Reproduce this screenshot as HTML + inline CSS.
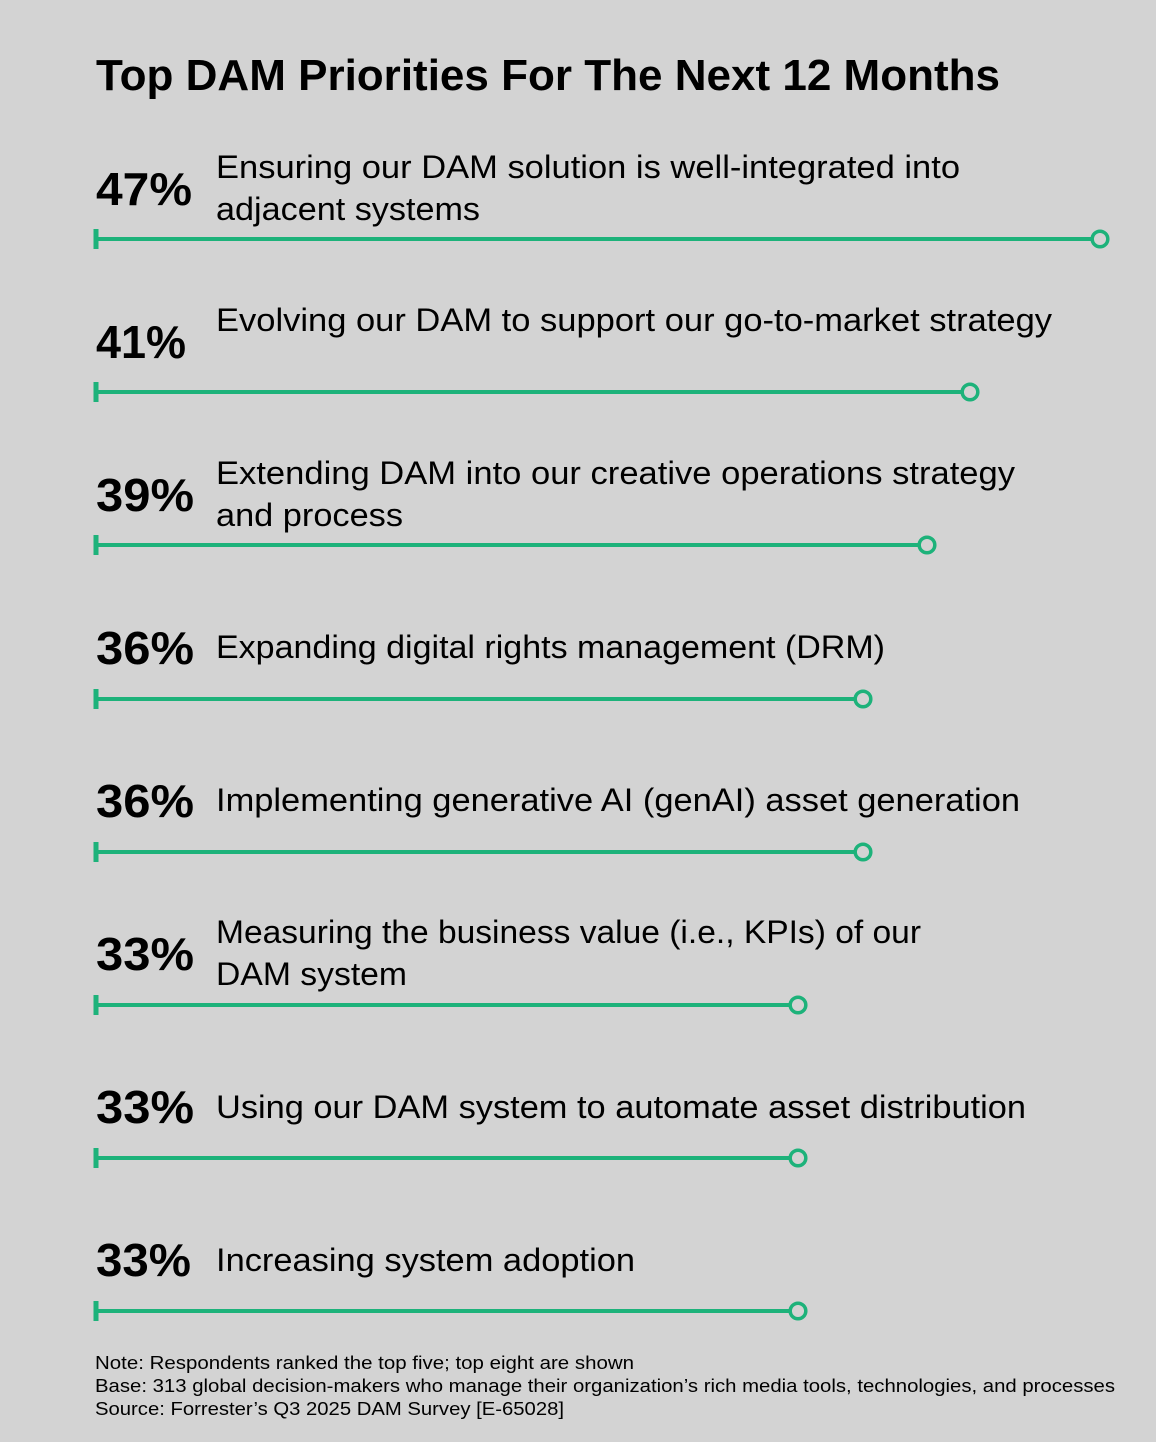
<!DOCTYPE html>
<html><head><meta charset="utf-8"><style>
html,body{margin:0;padding:0;background:#d3d3d3;}
svg{display:block;}
text{font-family:"Liberation Sans",sans-serif;fill:#000;}
.p{font-weight:bold;font-size:46px;}
.l{font-size:32px;}
.f{font-size:18px;}
</style></head><body>
<svg width="1156" height="1442" viewBox="0 0 1156 1442" xmlns="http://www.w3.org/2000/svg">
<rect width="1156" height="1442" fill="#d3d3d3"/>
<text x="96" y="90" font-weight="bold" font-size="44" textLength="904" lengthAdjust="spacingAndGlyphs">Top DAM Priorities For The Next 12 Months</text>
<g stroke="#1db27a" fill="none">
<g stroke-width="4">
<line x1="96" y1="239" x2="1092" y2="239"/><line x1="96" y1="392" x2="962" y2="392"/>
<line x1="96" y1="545" x2="919" y2="545"/><line x1="96" y1="699" x2="855" y2="699"/>
<line x1="96" y1="852" x2="855" y2="852"/><line x1="96" y1="1005" x2="790" y2="1005"/>
<line x1="96" y1="1158" x2="790" y2="1158"/><line x1="96" y1="1311" x2="790" y2="1311"/>
</g>
<g stroke-width="5">
<line x1="96" y1="229" x2="96" y2="249"/><line x1="96" y1="382" x2="96" y2="402"/>
<line x1="96" y1="535" x2="96" y2="555"/><line x1="96" y1="689" x2="96" y2="709"/>
<line x1="96" y1="842" x2="96" y2="862"/><line x1="96" y1="995" x2="96" y2="1015"/>
<line x1="96" y1="1148" x2="96" y2="1168"/><line x1="96" y1="1301" x2="96" y2="1321"/>
</g>
<g stroke-width="3.5">
<circle cx="1100" cy="239" r="7.8"/><circle cx="970" cy="392" r="7.8"/>
<circle cx="927" cy="545" r="7.8"/><circle cx="863" cy="699" r="7.8"/>
<circle cx="863" cy="852" r="7.8"/><circle cx="798" cy="1005" r="7.8"/>
<circle cx="798" cy="1158" r="7.8"/><circle cx="798" cy="1311" r="7.8"/>
</g>
</g>
<g class="p">
<text x="96" y="205" textLength="96" lengthAdjust="spacingAndGlyphs">47%</text>
<text x="96" y="358" textLength="90" lengthAdjust="spacingAndGlyphs">41%</text>
<text x="96" y="511" textLength="98" lengthAdjust="spacingAndGlyphs">39%</text>
<text x="96" y="664" textLength="98" lengthAdjust="spacingAndGlyphs">36%</text>
<text x="96" y="817" textLength="98" lengthAdjust="spacingAndGlyphs">36%</text>
<text x="96" y="970" textLength="98" lengthAdjust="spacingAndGlyphs">33%</text>
<text x="96" y="1123" textLength="98" lengthAdjust="spacingAndGlyphs">33%</text>
<text x="96" y="1276" textLength="95" lengthAdjust="spacingAndGlyphs">33%</text>
</g>
<g class="l">
<text x="216" y="178" textLength="744" lengthAdjust="spacingAndGlyphs">Ensuring our DAM solution is well-integrated into</text>
<text x="216" y="220" textLength="264" lengthAdjust="spacingAndGlyphs">adjacent systems</text>
<text x="216" y="331" textLength="836" lengthAdjust="spacingAndGlyphs">Evolving our DAM to support our go-to-market strategy</text>
<text x="216" y="484" textLength="799" lengthAdjust="spacingAndGlyphs">Extending DAM into our creative operations strategy</text>
<text x="216" y="526" textLength="187" lengthAdjust="spacingAndGlyphs">and process</text>
<text x="216" y="658" textLength="669" lengthAdjust="spacingAndGlyphs">Expanding digital rights management (DRM)</text>
<text x="216" y="811" textLength="804" lengthAdjust="spacingAndGlyphs">Implementing generative AI (genAI) asset generation</text>
<text x="216" y="943" textLength="705" lengthAdjust="spacingAndGlyphs">Measuring the business value (i.e., KPIs) of our</text>
<text x="216" y="985" textLength="191" lengthAdjust="spacingAndGlyphs">DAM system</text>
<text x="216" y="1118" textLength="810" lengthAdjust="spacingAndGlyphs">Using our DAM system to automate asset distribution</text>
<text x="216" y="1271" textLength="419" lengthAdjust="spacingAndGlyphs">Increasing system adoption</text>
</g>
<g class="f">
<text x="95" y="1369" textLength="539" lengthAdjust="spacingAndGlyphs">Note: Respondents ranked the top five; top eight are shown</text>
<text x="95" y="1392" textLength="1020" lengthAdjust="spacingAndGlyphs">Base: 313 global decision-makers who manage their organization’s rich media tools, technologies, and processes</text>
<text x="95" y="1415" textLength="469" lengthAdjust="spacingAndGlyphs">Source: Forrester’s Q3 2025 DAM Survey [E-65028]</text>
</g>
</svg>
</body></html>
